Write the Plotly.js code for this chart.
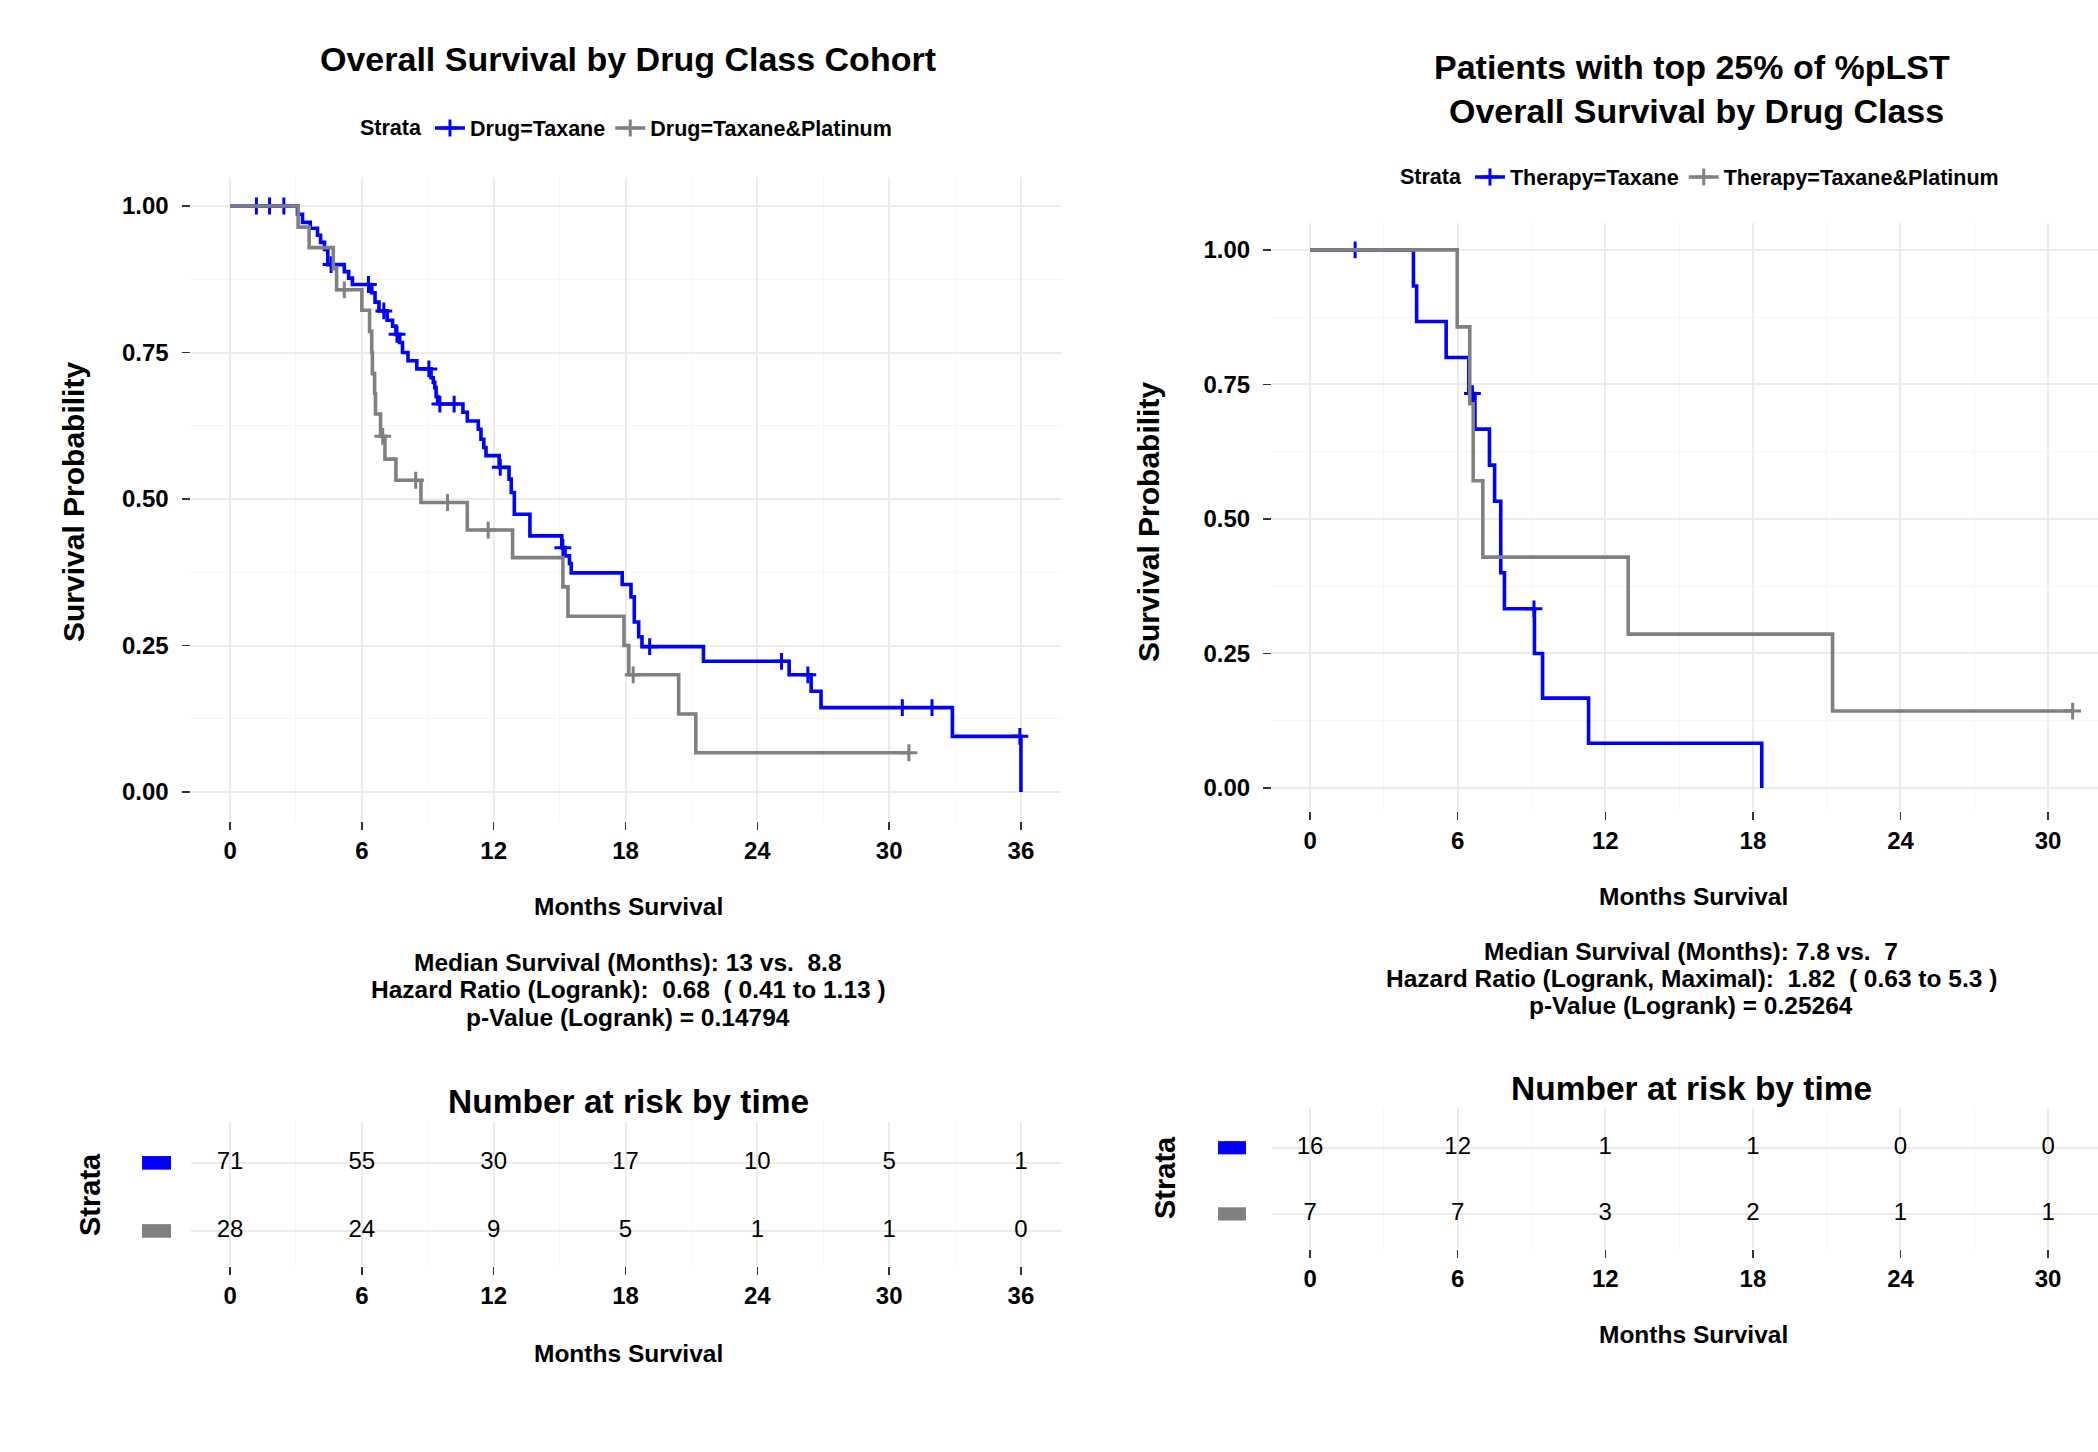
<!DOCTYPE html>
<html>
<head>
<meta charset="utf-8">
<script src="https://cdn.plot.ly/plotly-3.0.1.min.js"></script>
<style>html,body{margin:0;padding:0;background:#fff;overflow:hidden;}#chart{width:2098px;height:1452px;}</style>
</head>
<body>
<div id="chart"></div>
<script>
// ---------------- DATA ----------------
// Left panel: whole cohort, Kaplan-Meier steps (months, survival)
const leftTaxaneTime = [0, 3.07, 3.3, 3.65, 3.98, 4.12, 4.3, 4.45, 5.2, 5.4, 5.57, 6.45, 6.6, 6.78, 7.15, 7.4, 7.55, 7.72, 7.85, 8.1, 8.5, 9.15, 9.25, 9.32, 9.38, 9.45, 10.6, 10.8, 11.3, 11.42, 11.55, 11.65, 12.25, 12.7, 12.8, 12.94, 13.65, 15.1, 15.25, 15.45, 15.53, 17.85, 18.25, 18.4, 18.6, 18.75, 21.55, 25.45, 26.45, 26.9, 32.88, 36.0];
const leftTaxaneSurv = [1, 0.986, 0.972, 0.962, 0.950, 0.938, 0.926, 0.900, 0.888, 0.877, 0.866, 0.852, 0.836, 0.821, 0.805, 0.795, 0.781, 0.767, 0.750, 0.736, 0.722, 0.707, 0.699, 0.690, 0.675, 0.662, 0.648, 0.633, 0.619, 0.602, 0.588, 0.574, 0.554, 0.534, 0.511, 0.474, 0.437, 0.417, 0.403, 0.390, 0.374, 0.354, 0.333, 0.290, 0.265, 0.248, 0.223, 0.200, 0.172, 0.144, 0.095, 0];
const leftTaxaneCensor = [1.2, 1.8, 2.45, 4.6, 6.3, 7.0, 7.6, 9.05, 9.55, 10.2, 12.3, 15.15, 19.1, 25.1, 26.3, 30.6, 31.95, 35.95];

const leftPlatTime = [0, 3.1, 3.6, 4.7, 4.85, 6.0, 6.35, 6.45, 6.48, 6.58, 6.62, 6.85, 7.05, 7.55, 8.69, 10.8, 12.86, 15.15, 15.38, 17.93, 18.15, 20.42, 21.2];
const leftPlatSurv = [1, 0.964, 0.929, 0.893, 0.857, 0.822, 0.786, 0.750, 0.714, 0.680, 0.645, 0.607, 0.568, 0.532, 0.494, 0.447, 0.400, 0.350, 0.300, 0.250, 0.200, 0.133, 0.067];
const leftPlatCensor = [5.2, 6.95, 8.45, 9.9, 11.75, 18.35, 30.9];

// Right panel: top 25% %pLST
const rightTaxaneTime = [0, 4.2, 4.33, 5.53, 6.45, 6.7, 7.29, 7.5, 7.75, 7.9, 9.12, 9.45, 11.32, 18.36];
const rightTaxaneSurv = [1, 0.933, 0.867, 0.800, 0.733, 0.667, 0.600, 0.533, 0.400, 0.333, 0.250, 0.167, 0.083, 0];
const rightTaxaneCensor = [1.83, 6.6, 9.1];

const rightPlatTime = [0, 5.98, 6.49, 6.63, 7.02, 12.93, 21.24];
const rightPlatSurv = [1, 0.857, 0.714, 0.571, 0.429, 0.286, 0.143];
const rightPlatCensor = [31.0];

// Number at risk tables
const riskTimesLeft = [0, 6, 12, 18, 24, 30, 36];
const riskLeftTaxane = [71, 55, 30, 17, 10, 5, 1];
const riskLeftPlat = [28, 24, 9, 5, 1, 1, 0];
const riskTimesRight = [0, 6, 12, 18, 24, 30];
const riskRightTaxane = [16, 12, 1, 1, 0, 0];
const riskRightPlat = [7, 7, 3, 2, 1, 1];

// Labels
const leftTitle = 'Overall Survival by Drug Class Cohort';
const rightTitle = 'Patients with top 25% of %pLST<br>&nbsp;Overall Survival by Drug Class';
const leftNames = ['Drug=Taxane', 'Drug=Taxane&amp;Platinum'];
const rightNames = ['Therapy=Taxane', 'Therapy=Taxane&amp;Platinum'];
const leftStats = ['Median Survival (Months): 13 vs.&nbsp;&nbsp;8.8', 'Hazard Ratio (Logrank):&nbsp;&nbsp;0.68&nbsp;&nbsp;( 0.41 to 1.13 )', 'p-Value (Logrank) = 0.14794'];
const rightStats = ['Median Survival (Months): 7.8 vs.&nbsp;&nbsp;7', 'Hazard Ratio (Logrank, Maximal):&nbsp;&nbsp;1.82&nbsp;&nbsp;( 0.63 to 5.3 )', 'p-Value (Logrank) = 0.25264'];

// ---------------- STYLE ----------------
const FONT = 'Liberation Sans, Arial, Helvetica, sans-serif';
const BLUE = '#0000FF';
const GREY = '#808080';
const W = 2098, H = 1452;
const px = v => v / W;
const py = v => 1 - v / H;

function stepAt(T, S, t) {
  let s = S[0];
  for (let i = 0; i < T.length; i++) { if (T[i] <= t) s = S[i]; }
  return s;
}
function lineXY(T, S, C) {
  const x = T.slice(), y = S.slice();
  const end = Math.max(T[T.length - 1], C.length ? C[C.length - 1] : 0);
  if (end > T[T.length - 1]) { x.push(end); y.push(S[S.length - 1]); }
  return {x, y};
}
function kmTraces(T, S, C, color, xa, ya) {
  const l = lineXY(T, S, C);
  return [
    {x: l.x, y: l.y, xaxis: xa, yaxis: ya, mode: 'lines', line: {color, width: 3.6, shape: 'hv'}, showlegend: false, hoverinfo: 'skip'},
    {x: C, y: C.map(t => stepAt(T, S, t)), xaxis: xa, yaxis: ya, mode: 'markers',
     marker: {symbol: 'cross-thin', size: 12, color, line: {color, width: 3}}, showlegend: false, hoverinfo: 'skip'}
  ];
}
function legendTrace(name, color, xa, ya, legend) {
  return {x: [null], y: [null], xaxis: xa, yaxis: ya, name, legend, mode: 'lines+markers',
    line: {color, width: 3.6}, marker: {symbol: 'cross-thin', size: 12, color, line: {color, width: 3}}, hoverinfo: 'skip'};
}
function riskTrace(times, counts, row, xa, ya) {
  return {x: times, y: times.map(() => row), text: counts.map(String), xaxis: xa, yaxis: ya, mode: 'text',
    textfont: {family: FONT, size: 24, color: '#000'}, textposition: 'middle center', showlegend: false, hoverinfo: 'skip'};
}

const traces = [
  ...kmTraces(leftTaxaneTime, leftTaxaneSurv, leftTaxaneCensor, BLUE, 'x', 'y'),
  ...kmTraces(leftPlatTime, leftPlatSurv, leftPlatCensor, GREY, 'x', 'y'),
  ...kmTraces(rightTaxaneTime, rightTaxaneSurv, rightTaxaneCensor, BLUE, 'x2', 'y2'),
  ...kmTraces(rightPlatTime, rightPlatSurv, rightPlatCensor, GREY, 'x2', 'y2'),
  legendTrace(leftNames[0], BLUE, 'x', 'y', 'legend'),
  legendTrace(leftNames[1], GREY, 'x', 'y', 'legend'),
  legendTrace(rightNames[0], BLUE, 'x2', 'y2', 'legend2'),
  legendTrace(rightNames[1], GREY, 'x2', 'y2', 'legend2'),
  riskTrace(riskTimesLeft, riskLeftTaxane, 2, 'x3', 'y3'),
  riskTrace(riskTimesLeft, riskLeftPlat, 1, 'x3', 'y3'),
  riskTrace(riskTimesRight, riskRightTaxane, 2, 'x4', 'y4'),
  riskTrace(riskTimesRight, riskRightPlat, 1, 'x4', 'y4')
];

const tickFont = {family: FONT, size: 24, color: '#000', weight: 700};
function xAxis(domain, range, anchor, maxT) {
  const vals = [];
  for (let t = 0; t <= maxT; t += 6) vals.push(t);
  return {domain, range, anchor, tickvals: vals, ticktext: vals.map(String), ticks: 'outside', ticklen: 8, tickwidth: 1.5,
    tickcolor: '#333', tickfont: tickFont, showgrid: true, gridcolor: '#EBEBEB', gridwidth: 2, zeroline: false, showline: false,
    minor: {dtick: 3, tick0: 0, showgrid: true, gridcolor: '#F5F5F5', gridwidth: 1}, fixedrange: true};
}
function yKM(domain, range, anchor) {
  return {domain, anchor, range, tickvals: [0, 0.25, 0.5, 0.75, 1], tickformat: '.2f', ticks: 'outside',
    ticklen: 8, tickwidth: 1.5, tickcolor: '#333', tickfont: tickFont, ticklabelstandoff: 8, showgrid: true,
    gridcolor: '#EBEBEB', gridwidth: 2, zeroline: false, showline: false,
    minor: {dtick: 0.125, tick0: 0, showgrid: true, gridcolor: '#F5F5F5', gridwidth: 1}, fixedrange: true};
}
function yRisk(domain, range, anchor) {
  return {domain, anchor, range, tickvals: [1, 2], showticklabels: false, ticks: '', showgrid: true,
    gridcolor: '#EBEBEB', gridwidth: 2, zeroline: false, showline: false, fixedrange: true};
}

const LX = [px(190.5), px(1060.5)];
const RX = [px(1272), 1];
const legendFont = {family: FONT, size: 21.5, color: '#000', weight: 700};
const layout = {
  width: W, height: H, margin: {l: 0, r: 0, t: 0, b: 0}, paper_bgcolor: '#fff', plot_bgcolor: '#fff',
  font: {family: FONT, color: '#000'}, hovermode: false,
  xaxis: xAxis(LX, [-1.8, 37.8], 'y', 36),
  yaxis: yKM([py(821.3), py(176.7)], [-0.05, 1.05], 'x'),
  xaxis2: xAxis(RX, [-1.55, 32.03], 'y2', 30),
  yaxis2: yKM([py(811), py(223)], [-0.0428, 1.05], 'x2'),
  xaxis3: xAxis(LX, [-1.8, 37.8], 'y3', 36),
  yaxis3: yRisk([py(1266), py(1122)], [0.485, 2.6], 'x3'),
  xaxis4: xAxis(RX, [-1.55, 32.03], 'y4', 30),
  yaxis4: yRisk([py(1249), py(1108)], [0.47, 2.6], 'x4'),
  legend: {orientation: 'h', x: px(358), xanchor: 'left', y: py(128), yanchor: 'middle', bgcolor: 'rgba(0,0,0,0)',
    font: legendFont, title: {text: 'Strata', side: 'left', font: legendFont}, itemwidth: 30, tracegroupgap: 0},
  legend2: {orientation: 'h', x: px(1398), xanchor: 'left', y: py(177), yanchor: 'middle', bgcolor: 'rgba(0,0,0,0)',
    font: legendFont, title: {text: 'Strata', side: 'left', font: legendFont}, itemwidth: 30, tracegroupgap: 0},
  shapes: [
    {type: 'rect', xref: 'x3 domain', yref: 'y3', x0: -0.0557, x1: -0.0224, y0: 1.9, y1: 2.1, fillcolor: BLUE, line: {width: 0}},
    {type: 'rect', xref: 'x3 domain', yref: 'y3', x0: -0.0557, x1: -0.0224, y0: 0.9, y1: 1.1, fillcolor: GREY, line: {width: 0}},
    {type: 'rect', xref: 'x4 domain', yref: 'y4', x0: -0.0654, x1: -0.0315, y0: 1.9, y1: 2.1, fillcolor: BLUE, line: {width: 0}},
    {type: 'rect', xref: 'x4 domain', yref: 'y4', x0: -0.0654, x1: -0.0315, y0: 0.9, y1: 1.1, fillcolor: GREY, line: {width: 0}}
  ],
  annotations: []
};

function ann(text, x, y, size, opts) {
  layout.annotations.push(Object.assign({text, xref: 'paper', yref: 'paper', x: px(x), y: py(y), xanchor: 'center', yanchor: 'middle',
    showarrow: false, font: {family: FONT, size, color: '#000', weight: 700}}, opts || {}));
}
ann(leftTitle, 628, 59, 34);
ann(rightTitle, 1692, 89, 34);
ann('Survival Probability', 73, 502, 30, {textangle: -90});
ann('Survival Probability', 1148, 522, 30, {textangle: -90});
ann('Months Survival', 628, 906, 24.5);
ann('Months Survival', 1693, 896, 24.5);
leftStats.forEach((s, i) => ann(s, 628, 962 + i * 27.5, 24.5));
rightStats.forEach((s, i) => ann(s, 1691, 951 + i * 27, 24.5));
ann('Number at risk by time', 628, 1101, 33.5);
ann('Number at risk by time', 1691, 1088, 33.5);
ann('Strata', 90, 1195, 29, {textangle: -90});
ann('Strata', 1165, 1178, 29, {textangle: -90});
ann('Months Survival', 628, 1353, 24.5);
ann('Months Survival', 1693, 1334, 24.5);

Plotly.newPlot('chart', traces, layout, {displayModeBar: false, staticPlot: true});
</script>
</body>
</html>
